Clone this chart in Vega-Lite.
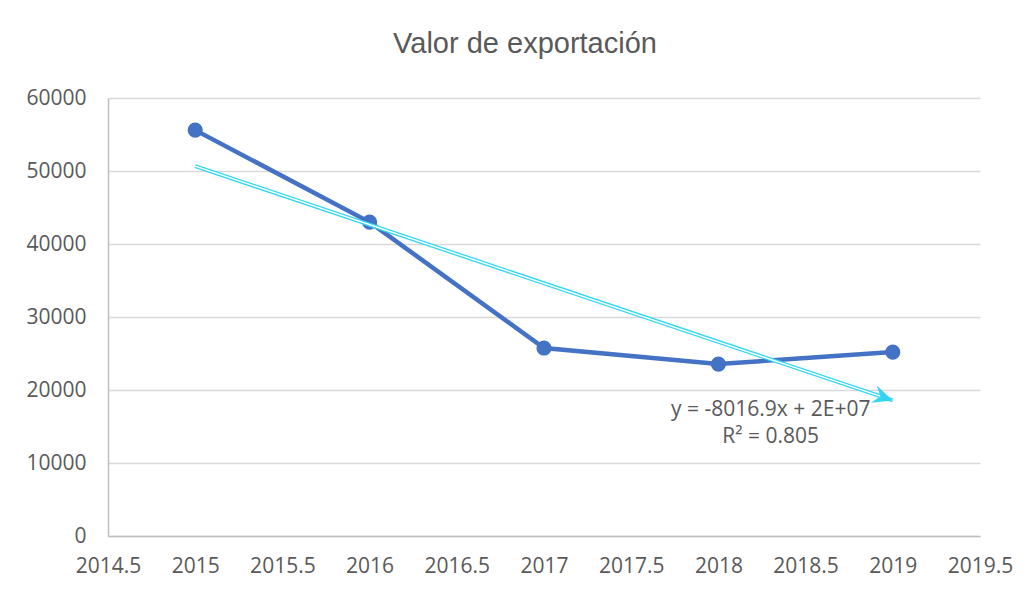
{
  "$schema": "https://vega.github.io/schema/vega-lite/v6.json",
  "autosize": "none",
  "width": 872,
  "height": 438,
  "padding": {"left": 108, "top": 98, "right": 51, "bottom": 56},
  "background": "white",
  "title": {
    "text": "Valor de exportación",
    "font": "Liberation Sans",
    "fontSize": 29,
    "fontWeight": "normal",
    "color": "#595959",
    "anchor": "middle",
    "frame": "group",
    "dx": -19,
    "offset": 5,
    "baseline": "alphabetic"
  },
  "data": {
    "values": [
      {"year": 2015, "value": 55600},
      {"year": 2016, "value": 43000},
      {"year": 2017, "value": 25750},
      {"year": 2018, "value": 23550},
      {"year": 2019, "value": 25200}
    ]
  },
  "config": {
    "view": {"stroke": null},
    "axis": {
      "labelFont": "Open Sans",
      "labelFontSize": 21,
      "labelColor": "#595959",
      "labelFlush": false,
      "labelOverlap": false,
      "ticks": false,
      "title": null,
      "domainColor": "#bfbfbf",
      "domainWidth": 1.5,
      "gridColor": "#d9d9d9",
      "gridWidth": 1.5
    }
  },
  "encoding": {
    "x": {
      "field": "year",
      "type": "quantitative",
      "scale": {"domain": [2014.5, 2019.5], "nice": false, "zero": false},
      "axis": {
        "grid": false,
        "values": [2014.5, 2015, 2015.5, 2016, 2016.5, 2017, 2017.5, 2018, 2018.5, 2019, 2019.5],
        "labelExpr": "'' + datum.value",
        "labelPadding": 19
      }
    },
    "y": {
      "field": "value",
      "type": "quantitative",
      "scale": {"domain": [0, 60000], "nice": false},
      "axis": {
        "grid": true,
        "values": [0, 10000, 20000, 30000, 40000, 50000, 60000],
        "labelExpr": "'' + datum.value",
        "labelPadding": 22
      }
    }
  },
  "layer": [
    {
      "mark": {"type": "line", "color": "#4472C4", "strokeWidth": 4.5}
    },
    {
      "mark": {"type": "circle", "color": "#4472C4", "size": 230, "opacity": 1}
    },
    {
      "transform": [
        {"regression": "value", "on": "year", "method": "linear", "extent": [2015, 2019]}
      ],
      "mark": {"type": "line", "color": "#33D6F2", "strokeWidth": 4}
    },
    {
      "transform": [
        {"regression": "value", "on": "year", "method": "linear", "extent": [2015, 2019]}
      ],
      "mark": {"type": "line", "color": "white", "strokeWidth": 1.4}
    },
    {
      "transform": [
        {"regression": "value", "on": "year", "method": "linear", "extent": [2015, 2019]},
        {"filter": "datum.year > 2018.5"}
      ],
      "mark": {
        "type": "point",
        "shape": "M 0 0 L -2 -0.9 L -1.3 0 L -2 0.9 Z",
        "filled": true,
        "color": "#33D6F2",
        "opacity": 1,
        "size": 400,
        "angle": 18.5
      }
    },
    {
      "transform": [{"filter": "datum.year == 2019"}],
      "mark": {
        "type": "text",
        "text": ["y = -8016.9x + 2E+07", "R² = 0.805"],
        "font": "Open Sans",
        "fontSize": 21,
        "color": "#595959",
        "align": "center",
        "baseline": "middle",
        "lineHeight": 27
      },
      "encoding": {
        "x": {"datum": 2018.3},
        "y": {"datum": 17250}
      }
    }
  ]
}
